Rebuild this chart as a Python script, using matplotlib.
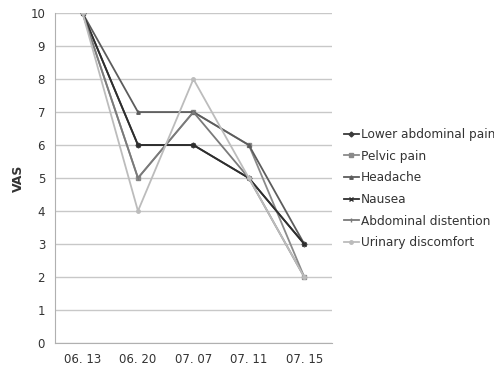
import matplotlib.pyplot as plt

dates = ['06. 13', '06. 20', '07. 07', '07. 11', '07. 15']
lower_abd = [10, 6, 6, 5, 3]
pelvic = [10, 5, 7, 6, 2]
headache = [10, 7, 7, 6, 3]
nausea = [10, 6, 6, 5, 3]
distention = [10, 5, 7, 5, 2]
urinary = [10, 4, 8, 5, 2]

series = [
    ('Lower abdominal pain', lower_abd, '#3a3a3a', 'D'),
    ('Pelvic pain', pelvic, '#8a8a8a', 's'),
    ('Headache', headache, '#5c5c5c', '^'),
    ('Nausea', nausea, '#2e2e2e', 'x'),
    ('Abdominal distention', distention, '#7a7a7a', '|'),
    ('Urinary discomfort', urinary, '#bcbcbc', 'o'),
]

fig = plt.figure(figsize=(4.94, 3.74), dpi=100)
ax = fig.add_axes([0.111, 0.083, 0.561, 0.882])

x = range(len(dates))
for name, vals, col, mk in series:
    ax.plot(x, vals, color=col, lw=1.3, marker=mk, ms=2.5, label=name)

ax.set_xlim(-0.5, 4.5)
ax.set_ylim(0, 10)
ax.set_yticks(range(0, 11))
ax.set_xticks(list(x))
ax.set_xticklabels(dates)
ax.yaxis.grid(True, color='#c8c8c8', lw=1)
ax.set_axisbelow(True)
for s in ['top', 'right']:
    ax.spines[s].set_visible(False)
ax.spines['left'].set_color('#b0b0b0')
ax.spines['bottom'].set_color('#b0b0b0')
ax.tick_params(length=0, labelsize=8.5, colors='#333333', pad=7)
ax.set_ylabel('VAS', fontsize=9, fontweight='bold', color='#333333')

ax.legend(loc='center left', bbox_to_anchor=(1.0, 0.468), frameon=False,
          fontsize=8.7, handlelength=1.2, handletextpad=0.2, labelspacing=0.72,
          borderaxespad=0.6, labelcolor='#333333')

fig.savefig('out.png', dpi=100)
